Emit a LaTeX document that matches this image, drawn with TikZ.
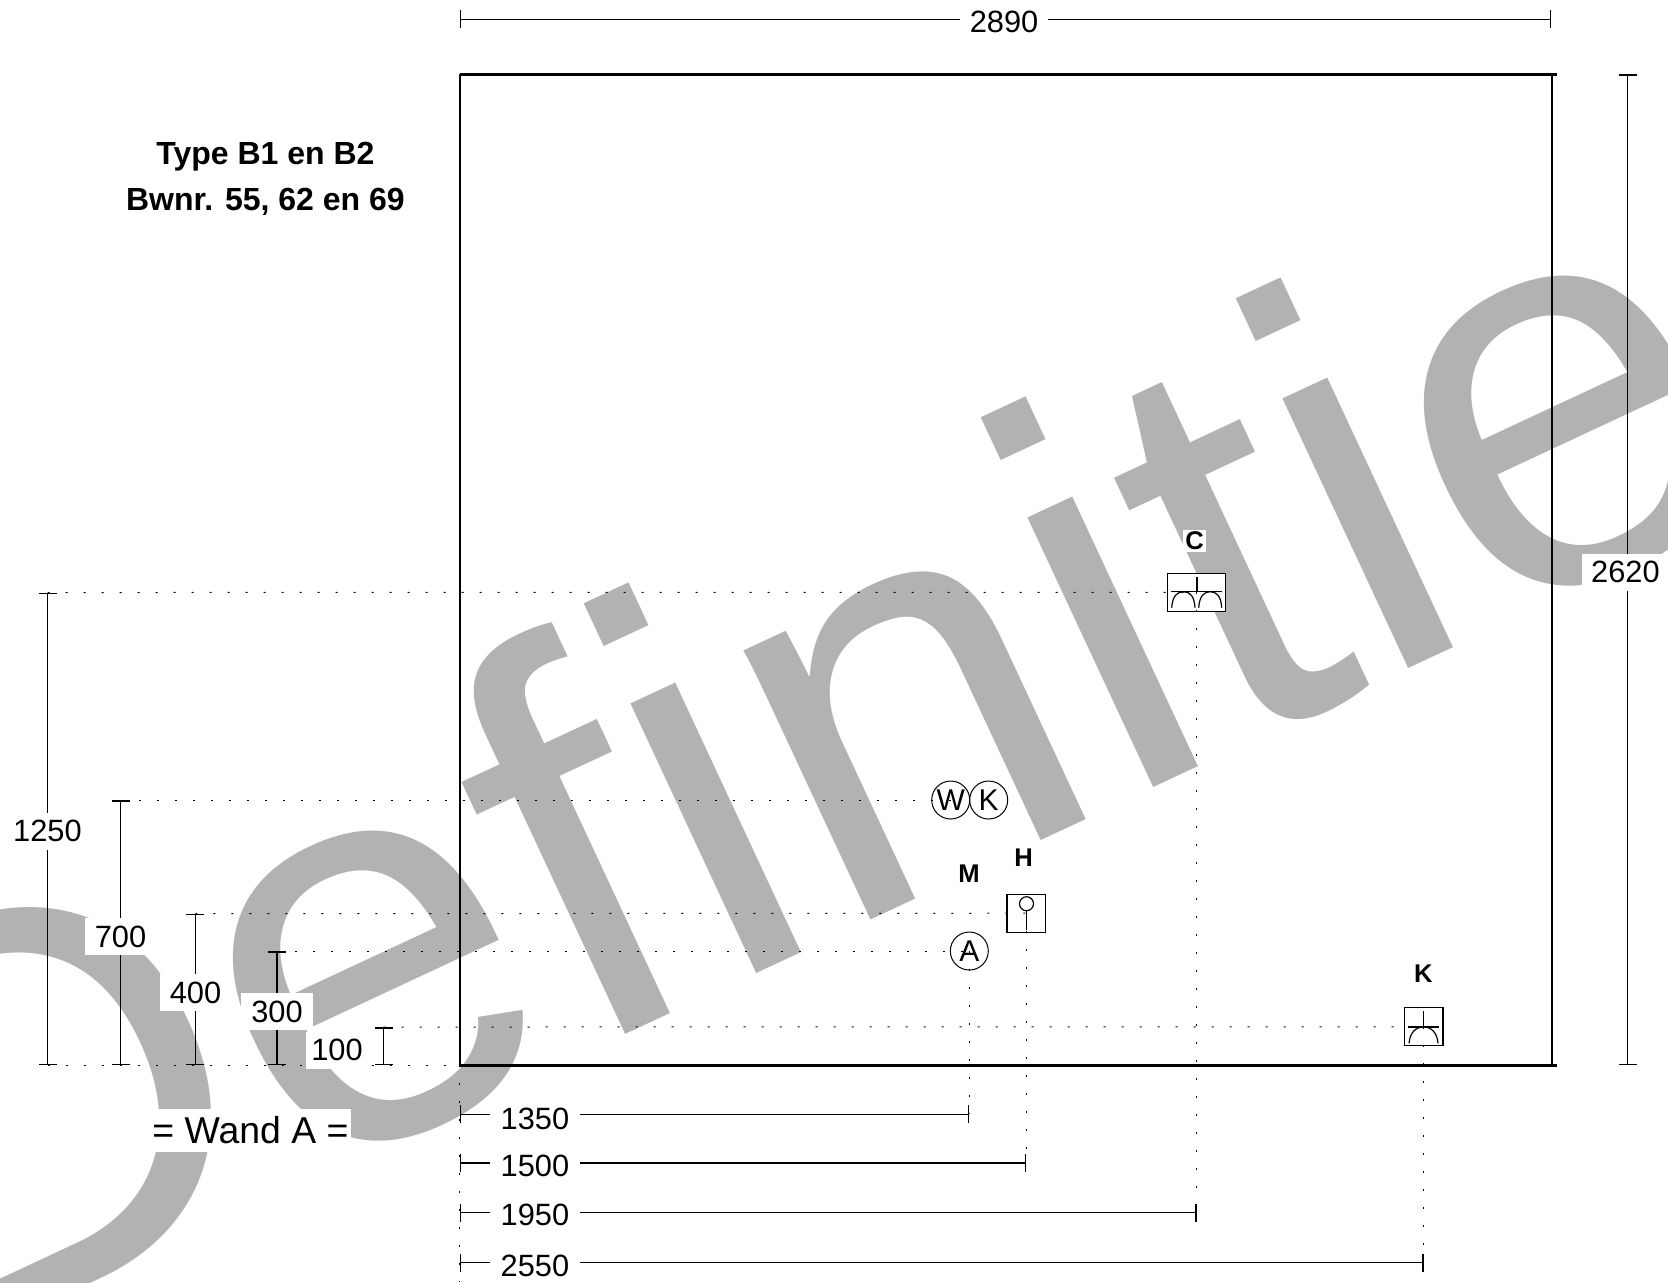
\documentclass[tikz,border=0pt]{standalone}
\usepackage{fontspec}
\setmainfont[Ligatures=NoCommon]{Liberation Sans}
\usetikzlibrary{arrows.meta}
\definecolor{wmgray}{gray}{0.70}
\tikzset{
  dimline/.style={line width=.75pt,{Bar[width=9pt]}-{Bar[width=9pt]}},
  dimlabel/.style={fill=white,inner sep=0pt,minimum width=36pt,minimum height=18.5pt,font=\fontsize{15.4}{15.4}\selectfont},
  dotline/.style={line width=.5pt,dash pattern=on 1pt off 8pt},
  symbox/.style={draw,fill=white,line width=.6pt,inner sep=0pt,minimum width=19.3pt,minimum height=19pt},
  symcircle/.style={draw,circle,line width=.5pt,inner sep=0pt,minimum size=19pt,font=\fontsize{15}{15}\selectfont},
  symline/.style={line width=.6pt},
  letterlabel/.style={inner sep=1pt,font=\fontsize{12.8}{12.8}\selectfont\bfseries},
}
\begin{document}
\begin{tikzpicture}[x=.5pt,y=-.5pt]
  \useasboundingbox (0,0) rectangle (1668,1282);
  % watermark
  \node[wmgray,rotate=25,anchor=base,inner sep=0pt,font=\fontsize{281.6}{281.6}\selectfont] (mark) at (850,929.5) {Definitie};
  % symbols
  \node[symcircle] (wcirc) at (950.7,800) {W};
  \node[symcircle] (kcirc) at (988.7,800) {K};
  \node[symcircle] (acirc) at (969.3,951) {A};
  \node[symbox] (hbox) at (1026.3,913.2) {};
  \node[symbox,minimum width=28.8pt] (cbox) at (1196.5,592.3) {};
  \node[symbox] (kbox) at (1423.6,1026.8) {};
  \draw[symline] (1026.5,910.7) -- (1026.5,930);
  \draw[symline] (1026.5,903.7) circle (7);
  \draw[symline] (1197,576.7) -- (1197,591.7);
  \draw[symline] (1171,591.7) -- (1222.3,591.7);
  \draw[symline] (1171.7,607.7) .. controls (1172.5,596) and (1177,591.7) .. (1183.5,591.7) .. controls (1190,591.7) and (1194.2,596) .. (1195,607.7);
  \draw[symline] (1198.7,607.7) .. controls (1199.5,596) and (1204,591.7) .. (1210.2,591.7) .. controls (1216.5,591.7) and (1221,596) .. (1221.7,607.7);
  \draw[symline] (1423.6,1011) -- (1423.6,1027);
  \draw[symline] (1407.7,1027) -- (1439.3,1027);
  \draw[symline] (1409,1043.3) .. controls (1410,1032) and (1416,1027) .. (1423.6,1027) .. controls (1431,1027) and (1437,1032) .. (1438,1043.3);
  \node[letterlabel,fill=white,minimum width=10pt] (lblC) at (1194.7,541) {C};
  \node[letterlabel] (lblH) at (1023.6,857.5) {H};
  \node[letterlabel] (lblM) at (969,873.4) {M};
  \node[letterlabel] (lblK) at (1423.4,973.4) {K};
  % dotted guides
  \coordinate (base) at (47.5,1065);
  \coordinate (org) at (459.5,1065);
  \coordinate (top1250) at (47.5,592.5);
  \coordinate (top700) at (120.7,800);
  \coordinate (top400) at (195.3,913.7);
  \coordinate (top300) at (277,951);
  \coordinate (top100) at (383.7,1027);
  \draw[dotline] (base) -- (org);
  \draw[dotline] (top1250) -- (cbox.center);
  \draw[dotline] (top700) -- (wcirc.center);
  \draw[dotline] (top400) -- (hbox.center);
  \draw[dotline] (top300) -- (acirc.center);
  \draw[dotline] (top100) -- (kbox.center);
  \coordinate (end2550) at (1423.6,1262.7);
  \coordinate (end1950) at (1196.5,1212.7);
  \coordinate (end1500) at (1026.3,1163);
  \coordinate (end1350) at (969.3,1114.3);
  \draw[dotline] (org) -- (459.5,1282);
  \draw[dotline] (acirc.center) -- (end1350);
  \draw[dotline] (hbox.center) -- (end1500);
  \draw[dotline] (cbox.center) -- (end1950);
  \draw[dotline] (kbox.center) -- (end2550);
  % wall outline
  \coordinate (tl) at (459.5,74);
  \coordinate (tr) at (1552,74);
  \coordinate (br) at (1552,1065);
  \draw[line width=1pt] (tl) -- (org);
  \draw[line width=1pt] (tr) -- (br);
  \draw[line width=1.5pt] (tl) -- (1556.7,74);
  \draw[line width=1.5pt] (org) -- (1556.7,1065);
  % dimensions
  \draw[dimline] (459.5,19.3) -- (1551.3,19.3);
  \draw[dimline] (1627.7,74) -- (1627.7,1065);
  \draw[dimline] (base) -- (top1250);
  \draw[dimline] (120.7,1065) -- (top700);
  \draw[dimline] (195.3,1065) -- (top400);
  \draw[dimline] (277,1065) -- (top300);
  \draw[dimline] (383.7,1065) -- (top100);
  \draw[dimline] (459.5,1114.3) -- (end1350);
  \draw[dimline] (459.5,1163) -- (end1500);
  \draw[dimline] (459.5,1212.7) -- (end1950);
  \draw[dimline] (459.5,1262.7) -- (end2550);
  \node[dimlabel,minimum width=44pt] (lbl2890) at (1004,22) {2890};
  \node[dimlabel,minimum width=43pt,anchor=west] (lbl2620) at (1582,572) {2620};
  \node[dimlabel,minimum width=35pt] (lbl1250) at (47.5,831) {1250};
  \node[dimlabel] (lbl700) at (120.5,936.5) {700};
  \node[dimlabel] (lbl400) at (195.5,992.5) {400};
  \node[dimlabel] (lbl300) at (277,1011.5) {300};
  \node[dimlabel,minimum width=31pt] (lbl100) at (337,1050) {100};
  \node[dimlabel,minimum width=45pt] (lbl1350) at (535,1119) {1350};
  \node[dimlabel,minimum width=45pt] (lbl1500) at (535,1166) {1500};
  \node[dimlabel,minimum width=45pt] (lbl1950) at (535,1215) {1950};
  \node[dimlabel,minimum width=45pt] (lbl2550) at (535,1266) {2550};
  % captions
  \node[fill=white,inner sep=0pt,minimum width=100pt,minimum height=21.5pt,font=\fontsize{18.7}{18.7}\selectfont] (wall) at (250.5,1130.5) {= Wand A =};
  \node[font=\fontsize{16}{16}\selectfont\bfseries] (title1) at (265.4,157) {Type B1 en B2};
  \node[font=\fontsize{16}{16}\selectfont\bfseries] (title2) at (265.4,202) {Bwnr. 55, 62 en 69};
\end{tikzpicture}
\end{document}
